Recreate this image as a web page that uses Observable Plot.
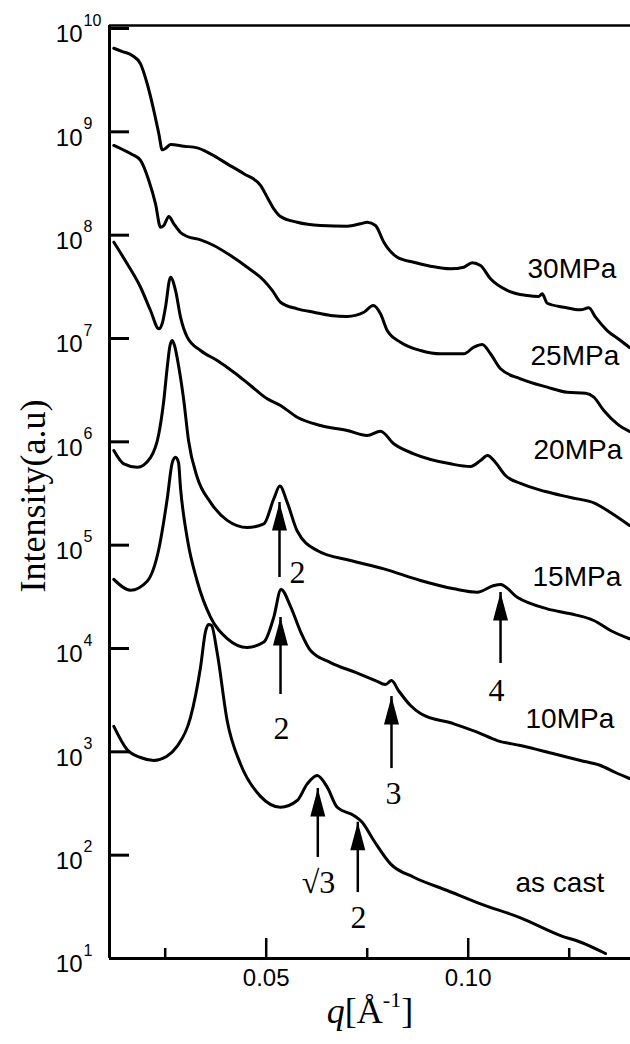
<!DOCTYPE html>
<html><head><meta charset="utf-8">
<script src="https://cdn.jsdelivr.net/npm/d3@7"></script>
<script src="https://cdn.jsdelivr.net/npm/@observablehq/plot@0.6"></script>
<style>html,body{margin:0;padding:0;background:#fff}#chart svg{display:block}</style>
</head><body><div id="chart"></div>
<script>
// ---- data (q in 1/Å, log10 of intensity) ----
const q30 = [0.01228,0.01443,0.01683,0.01889,0.02054,0.02218,0.02342,0.02426,0.02507,0.02631,0.0296,0.03292,0.03621,0.04035,0.04446,0.04859,0.05025,0.05188,0.05354,0.05767,0.06344,0.07005,0.07334,0.075,0.07705,0.07911,0.08243,0.08653,0.09067,0.09562,0.09891,0.10099,0.10304,0.10552,0.10965,0.1146,0.1174,0.11832,0.11955,0.12366,0.1278,0.12985,0.13151,0.1344,0.1377,0.13993];
const L30 = [9.809,9.777,9.739,9.658,9.465,9.206,8.981,8.826,8.839,8.877,8.861,8.845,8.787,8.690,8.594,8.481,8.367,8.255,8.181,8.125,8.094,8.087,8.110,8.125,8.094,7.932,7.787,7.738,7.700,7.674,7.690,7.733,7.706,7.578,7.465,7.416,7.406,7.432,7.341,7.303,7.277,7.297,7.206,7.077,6.981,6.913];
const q25 = [0.01228,0.01443,0.01683,0.01889,0.02094,0.0226,0.02384,0.02465,0.02589,0.02713,0.02879,0.03045,0.03374,0.03703,0.04116,0.0453,0.04941,0.05149,0.05354,0.05767,0.06178,0.06592,0.07005,0.07416,0.07649,0.07829,0.07995,0.08324,0.08819,0.09314,0.09891,0.10139,0.10347,0.10552,0.108,0.11295,0.11955,0.1245,0.12903,0.13109,0.13356,0.13688,0.13993];
const L25 = [8.868,8.829,8.781,8.723,8.529,8.303,8.077,8.094,8.181,8.110,8.026,7.987,7.955,7.900,7.803,7.690,7.561,7.465,7.351,7.287,7.254,7.223,7.213,7.254,7.319,7.239,7.077,6.964,6.884,6.852,6.852,6.916,6.942,6.852,6.707,6.610,6.529,6.480,6.471,6.432,6.303,6.174,6.100];
const q20 = [0.01228,0.01559,0.01889,0.02136,0.02342,0.02433,0.02507,0.02631,0.02755,0.02879,0.03045,0.03374,0.03787,0.04198,0.04611,0.05025,0.05354,0.05767,0.06344,0.07005,0.075,0.07829,0.08158,0.08653,0.09562,0.10057,0.10304,0.10478,0.10676,0.10923,0.11295,0.11913,0.12532,0.13151,0.13522,0.13993];
const L20 = [7.932,7.723,7.496,7.271,7.094,7.155,7.303,7.593,7.465,7.206,7.013,6.884,6.787,6.674,6.545,6.416,6.352,6.238,6.158,6.110,6.061,6.103,5.981,5.884,5.787,5.761,5.819,5.868,5.800,5.674,5.597,5.519,5.461,5.403,5.316,5.190];
const q15 = [0.01228,0.01475,0.01807,0.02136,0.02342,0.02465,0.0255,0.02619,0.02673,0.0273,0.02837,0.0296,0.03077,0.03292,0.03621,0.04035,0.0453,0.04941,0.05188,0.05337,0.0552,0.05767,0.06262,0.07087,0.07911,0.08819,0.09644,0.10223,0.10634,0.108,0.11213,0.11955,0.12532,0.13109,0.13522,0.13993];
const L15 = [5.916,5.787,5.754,5.848,6.078,6.400,6.722,6.932,6.981,6.932,6.722,6.400,6.013,5.657,5.414,5.240,5.171,5.206,5.449,5.572,5.414,5.137,4.948,4.851,4.771,4.658,4.578,4.545,4.609,4.619,4.496,4.384,4.336,4.271,4.174,4.094];
const q10 = [0.01228,0.01641,0.02054,0.02342,0.0255,0.02673,0.02755,0.02829,0.02879,0.03045,0.03292,0.03621,0.04035,0.0453,0.04941,0.05188,0.05366,0.05601,0.05849,0.06097,0.06592,0.0721,0.07705,0.07953,0.08101,0.08275,0.08572,0.08819,0.09644,0.10223,0.10718,0.11295,0.12119,0.1278,0.13275,0.13646,0.13993];
const L10 = [4.669,4.564,4.651,4.963,5.449,5.796,5.851,5.800,5.553,5.067,4.651,4.304,4.096,4.010,4.062,4.304,4.571,4.408,4.164,3.980,3.864,3.768,3.690,3.651,3.690,3.593,3.448,3.371,3.271,3.190,3.109,3.061,2.981,2.916,2.868,2.800,2.742];
const qCast = [0.01228,0.01559,0.01889,0.02218,0.02532,0.02797,0.03126,0.03374,0.03498,0.03572,0.03646,0.03787,0.04035,0.04364,0.04859,0.05354,0.05767,0.06015,0.06262,0.0651,0.06757,0.07168,0.07376,0.07663,0.08077,0.08653,0.0948,0.10304,0.11295,0.12285,0.12804,0.13399];
const LCast = [3.246,3.020,2.945,2.917,2.955,3.055,3.333,3.819,4.165,4.232,4.222,3.957,3.298,2.882,2.569,2.464,2.529,2.690,2.771,2.658,2.464,2.384,2.319,2.142,1.916,1.786,1.658,1.529,1.394,1.222,1.155,1.048];

const seriesNames = ["30MPa","25MPa","20MPa","15MPa","10MPa","as cast"];
const seriesLabelQ = [0.11468,0.11542,0.11616,0.11592,0.11418,0.11171];
const seriesLabelL = [7.668,6.826,5.916,4.687,3.322,1.735];

const arrowQ = [0.05329,0.05354,0.08101,0.108,0.06277,0.07267];
const arrowTipL = [5.413,4.300,3.535,4.542,2.645,2.319];
const arrowBaseL = [4.687,3.555,2.838,3.855,1.977,1.638];
const arrowText = ["2","2","3","4","√3","2"];
const arrowTextQ = [0.05775,0.05379,0.08151,0.107,0.06293,0.07284];
const arrowTextL = [4.735,3.226,2.597,3.593,1.735,1.397];

const yExponents = [1,2,3,4,5,6,7,8,9,10];
const xMajor = [0.05,0.10];
const xMinor = [0.025,0.075,0.125];
const xDomain = [0.01121,0.14017];
const yDomain = [10, 10**10.029];

// ---- build tables ----
function seriesRows(name,q,L){const n=Math.min(q.length,L.length);return d3.range(n).map(i=>({series:name,q:q[i],I:10**L[i]}));}
const curves = [
  ...seriesRows("30MPa",q30,L30),...seriesRows("25MPa",q25,L25),...seriesRows("20MPa",q20,L20),
  ...seriesRows("15MPa",q15,L15),...seriesRows("10MPa",q10,L10),...seriesRows("as cast",qCast,LCast)];
const labels = seriesNames.map((s,i)=>({s,q:seriesLabelQ[i],I:10**seriesLabelL[i]}));
const arrows = arrowQ.map((q,i)=>({q,tip:10**arrowTipL[i],base:10**arrowBaseL[i]}));
const arrowLabels = arrowText.map((t,i)=>({t,q:arrowTextQ[i],I:10**arrowTextL[i]}));

const W=630,H=1044,mL=109,mR=0,mT=25,mB=86;
const frameW=W-mL-mR, frameH=H-mT-mB;
const headSymbol={draw(ctx){ctx.moveTo(0,0);ctx.lineTo(7.5,28);ctx.lineTo(-7.5,28);ctx.closePath();}};
const SANS="'Liberation Sans', Arial, Helvetica, sans-serif";
const SERIF="'Liberation Serif', 'Times New Roman', Times, serif";

const chart = Plot.plot({
  width:W,height:H,marginLeft:mL,marginRight:mR,marginTop:mT,marginBottom:mB,
  style:{background:"#fff",color:"#000",fontFamily:SANS},
  x:{domain:xDomain,axis:null},
  y:{type:"log",domain:yDomain,axis:null},
  marks:[
    Plot.line(curves,{x:"q",y:"I",z:"series",stroke:"#000",strokeWidth:3,curve:"monotone-x",clip:true,strokeLinejoin:"round"}),
    Plot.ruleX(arrows,{x:"q",y1:"base",y2:"tip",stroke:"#000",strokeWidth:2.5}),
    Plot.dot(arrows,{x:"q",y:"tip",symbol:headSymbol,fill:"#000",stroke:"none",r:5}),
    Plot.text(arrowLabels,{x:"q",y:"I",text:"t",fontSize:32,fontFamily:SERIF,fill:"#000"}),
    Plot.text(labels,{x:"q",y:"I",text:"s",textAnchor:"start",fontSize:28,fill:"#000"}),
    // axes
    Plot.ruleX([xDomain[0]],{stroke:"#000",strokeWidth:3}),
    Plot.ruleY([yDomain[0]],{stroke:"#000",strokeWidth:3}),
    Plot.ruleY([yDomain[1]],{stroke:"#000",strokeWidth:2.5}),
    Plot.tickY(yExponents,{y:d=>10**d,insetRight:frameW-20,stroke:"#000",strokeWidth:3}),
    Plot.tickX(xMajor,{x:d=>d,insetTop:frameH-20,stroke:"#000",strokeWidth:2.5}),
    Plot.tickX(xMinor,{x:d=>d,insetTop:frameH-10,stroke:"#000",strokeWidth:2.5}),
    Plot.text(yExponents,{y:d=>10**d,text:()=>"10",frameAnchor:"left",textAnchor:"end",dx:-27,dy:6,fontSize:24,fill:"#000"}),
    Plot.text(yExponents,{y:d=>10**d,text:d=>String(d),frameAnchor:"left",textAnchor:"start",dx:-26,dy:-8,fontSize:16,fill:"#000"}),
    Plot.text(xMajor,{x:d=>d,text:d=>d.toFixed(2),frameAnchor:"bottom",dy:27,fontSize:24,fill:"#000"}),
    Plot.text(["Intensity(a.u)"],{text:d=>d,frameAnchor:"left",textAnchor:"middle",dx:-76,dy:4,rotate:-90,fontSize:36,fontFamily:SERIF,fill:"#000"}),
    Plot.text(["XTITLE"],{text:d=>d,frameAnchor:"bottom",textAnchor:"middle",dy:64,fontSize:36,fontFamily:SERIF,fill:"#000"})
  ]
});
document.getElementById("chart").appendChild(chart);
// rich text for the x-axis title: italic q, Å with superscript -1
d3.select(chart).selectAll("text").filter(function(){return this.textContent==="XTITLE";}).each(function(){
  const t=d3.select(this).text(null);
  t.append("tspan").attr("font-style","italic").text("q");
  t.append("tspan").text("[Å");
  t.append("tspan").attr("font-size",22).attr("dy",-16).text("-1");
  t.append("tspan").attr("dy",16).text("]");
});
</script></body></html>
